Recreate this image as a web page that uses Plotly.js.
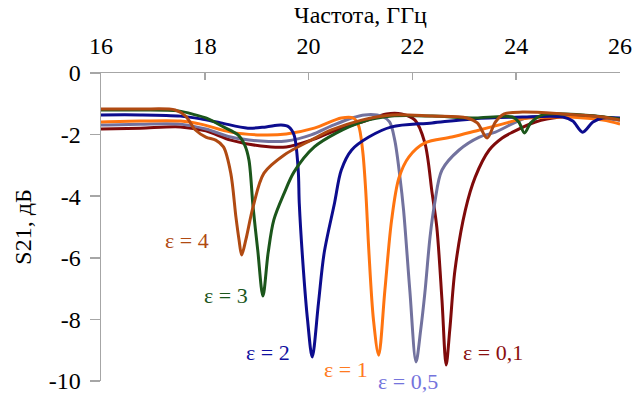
<!DOCTYPE html>
<html>
<head>
<meta charset="utf-8">
<script src="https://cdn.plot.ly/plotly-3.0.1.min.js"></script>
<style>html,body{margin:0;padding:0;background:#fff;}#chart{width:642px;height:393px;}</style>
</head>
<body>
<div id="chart"></div>
<script>
// ε = 4
const f4 = [16.00,16.76,17.43,17.63,17.82,18.02,18.21,18.36,18.50,18.60,18.66,18.71,18.79,18.93,19.14,19.53,20.05,20.44,21.02,21.60,22.38,23.05,23.25,23.44,23.60,23.77,24.12,24.90,25.67,26.00];
const s4 = [-1.17,-1.17,-1.20,-1.40,-1.85,-2.08,-2.18,-2.40,-3.25,-4.68,-5.42,-5.91,-5.42,-4.35,-3.25,-2.66,-2.18,-1.85,-1.53,-1.36,-1.40,-1.46,-1.62,-2.11,-1.59,-1.33,-1.27,-1.33,-1.43,-1.53];
// ε = 3
const f3 = [16.00,16.76,17.49,17.82,18.02,18.36,18.64,18.77,18.85,18.93,19.02,19.12,19.22,19.33,19.53,19.72,20.11,20.53,21.02,21.60,22.38,23.15,23.93,24.05,24.16,24.28,24.51,25.28,26.00];
const s3 = [-1.20,-1.20,-1.23,-1.36,-1.46,-1.75,-2.01,-2.34,-2.82,-4.35,-5.75,-7.24,-5.84,-4.77,-3.90,-3.21,-2.40,-1.95,-1.59,-1.40,-1.40,-1.46,-1.43,-1.59,-1.95,-1.62,-1.36,-1.36,-1.49];
// ε = 2
const f2 = [16.00,16.76,17.53,17.92,18.31,18.83,19.18,19.47,19.62,19.72,19.80,19.82,19.90,19.98,20.07,20.19,20.30,20.50,20.63,20.83,21.16,21.60,22.38,23.15,24.12,24.90,25.09,25.28,25.48,25.67,26.00];
const s2 = [-1.36,-1.36,-1.40,-1.49,-1.62,-1.79,-1.75,-1.69,-1.75,-2.01,-3.15,-4.22,-6.40,-8.02,-9.22,-7.47,-5.84,-4.22,-3.15,-2.50,-2.08,-1.75,-1.62,-1.49,-1.43,-1.43,-1.56,-1.92,-1.59,-1.46,-1.46];
// ε = 1
const f1 = [16.00,16.76,17.53,17.92,18.50,19.08,19.57,20.11,20.63,20.86,20.96,21.04,21.10,21.16,21.25,21.35,21.47,21.60,21.74,21.93,22.24,22.76,23.29,23.73,24.12,24.90,25.67,26.00];
const s1 = [-1.59,-1.56,-1.56,-1.66,-1.92,-2.01,-1.98,-1.79,-1.46,-1.46,-1.69,-2.50,-3.80,-5.75,-8.02,-9.16,-7.05,-4.77,-3.41,-2.73,-2.27,-2.08,-1.85,-1.66,-1.49,-1.43,-1.53,-1.66];
// ε = 0,5
const f05 = [16.00,16.76,17.53,18.02,18.50,19.08,19.57,20.05,20.44,20.83,21.08,21.41,21.56,21.66,21.76,21.83,21.95,22.07,22.16,22.24,22.34,22.43,22.57,22.90,23.29,23.60,24.18,24.60,25.28,26.00];
const s05 = [-1.69,-1.66,-1.66,-1.82,-2.08,-2.21,-2.21,-2.01,-1.72,-1.46,-1.36,-1.40,-1.59,-2.18,-3.38,-4.45,-7.05,-9.38,-8.34,-7.14,-5.32,-4.22,-3.15,-2.50,-2.08,-1.92,-1.46,-1.40,-1.43,-1.53];
// ε = 0,1
const f01 = [16.00,16.76,17.53,18.02,18.50,19.08,19.57,20.05,20.44,21.08,21.50,21.79,22.05,22.24,22.38,22.47,22.57,22.65,22.72,22.82,23.02,23.21,23.48,23.73,23.93,24.37,24.84,25.48,26.00];
const s01 = [-1.82,-1.79,-1.75,-1.88,-2.18,-2.37,-2.40,-2.18,-1.92,-1.56,-1.33,-1.33,-1.53,-2.27,-3.90,-5.00,-7.37,-9.48,-8.34,-6.40,-4.45,-3.38,-2.50,-2.11,-1.92,-1.59,-1.43,-1.40,-1.53];

const seriesNames = ["ε = 0,1","ε = 0,5","ε = 1","ε = 2","ε = 3","ε = 4"];
const labelX = [23.55, 21.92, 20.73, 19.22, 18.40, 17.66];
const labelY = [-9.06, -10.0, -9.64, -9.09, -7.24, -5.45];
const xTicks = [16,18,20,22,24,26];
const yTicks = [0,-2,-4,-6,-8,-10];

const colors = ["#7F0A0A","#72729E","#FF7410","#0C0C8E","#1B561B","#B04A12"];
const labelColors = ["#8A1010","#7474DC","#FF7A20","#1010A0","#1B561B","#B04A12"];
const xs = [f01,f05,f1,f2,f3,f4];
const ys = [s01,s05,s1,s2,s3,s4];

const traces = xs.map((x,i)=>({
  x: x, y: ys[i], type:'scatter', mode:'lines', name: seriesNames[i],
  line:{color:colors[i], width:3, shape:'spline', smoothing:0.9},
  hoverinfo:'skip', cliponaxis:false
}));

const FONT = "Liberation Serif, Times New Roman, serif";
const annotations = seriesNames.map((n,i)=>({
  x: labelX[i], y: labelY[i], xref:'x', yref:'y', text:n, showarrow:false,
  xanchor:'center', yanchor:'middle',
  font:{family:FONT, size:22, color:labelColors[i]}
}));

const layout = {
  width:642, height:393,
  margin:{l:101, r:22, t:73, b:12},
  paper_bgcolor:'#fff', plot_bgcolor:'#fff',
  showlegend:false,
  font:{family:FONT, size:24, color:'#000'},
  xaxis:{
    side:'top', range:[16,26], tickvals:xTicks, ticktext:xTicks.map(String),
    showline:true, linecolor:'#A6A6A6', linewidth:1.5, mirror:false,
    ticks:'inside', ticklen:7, tickcolor:'#A6A6A6', tickwidth:1.5,
    showgrid:false, zeroline:false, ticklabelstandoff:8,
    tickfont:{family:FONT, size:24, color:'#000'},
    title:{text:'Частота, ГГц', font:{family:FONT, size:24, color:'#000'}, standoff:2}
  },
  yaxis:{
    range:[-10,0], tickvals:yTicks, ticktext:yTicks.map(String),
    showline:true, linecolor:'#A6A6A6', linewidth:1.5,
    ticks:'outside', ticklen:10, tickcolor:'#A6A6A6', tickwidth:1.5,
    showgrid:false, zeroline:false, ticklabelstandoff:4, ticklabeloverflow:'allow',
    tickfont:{family:FONT, size:24, color:'#000'},
    title:{text:'S21, дБ', font:{family:FONT, size:24, color:'#000'}, standoff:10}
  },
  annotations: annotations
};

Plotly.newPlot('chart', traces, layout, {staticPlot:true, displayModeBar:false});
</script>
</body>
</html>
